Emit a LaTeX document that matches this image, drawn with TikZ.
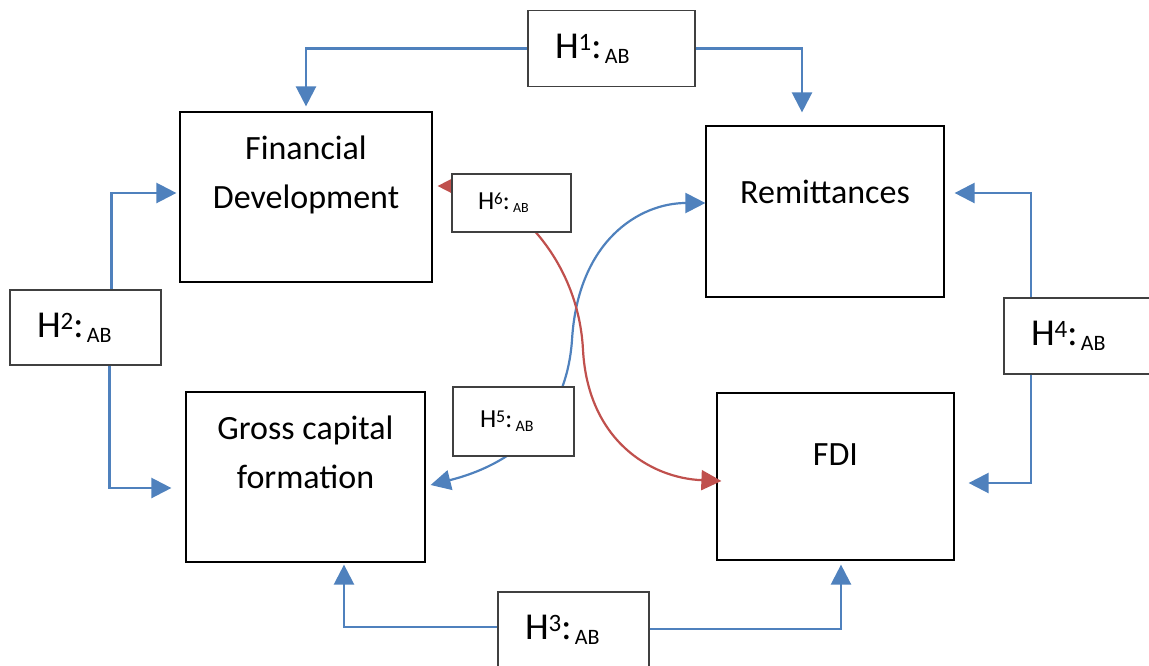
\documentclass[tikz,border=0pt]{standalone}
\usepackage{fontspec}
\setmainfont{Carlito}
\usetikzlibrary{arrows.meta,calc}
\definecolor{lblue}{HTML}{4F81BD}
\definecolor{lred}{HTML}{C0504D}
\definecolor{hgray}{HTML}{404040}
% #1 number, #2 H size, #3 sup size, #4 AB size, #5 sup raise, #6 AB lower
\newcommand\hyplab[6]{\fontsize{#2}{#2}\selectfont H\raisebox{#5}{\fontsize{#3}{#3}\selectfont #1}:\ \raisebox{-#6}{\fontsize{#4}{#4}\selectfont AB}}
\begin{document}
\begin{tikzpicture}[x=1pt,y=-1pt,
  mainbox/.style={draw=black,line width=1.2pt,fill=white,inner sep=0pt},
  maintext/.style={align=center,font=\fontsize{34}{49}\selectfont,inner sep=0pt},
  hypbox/.style={draw=hgray,line width=1.2pt,fill=white,inner ysep=0pt,inner xsep=27pt,align=left},
  conn/.style={draw=lblue,line width=2.4pt,-{Triangle[length=20pt,width=20pt]}},
  bconn/.style={draw=lblue,line width=2.2pt,{Triangle[length=20pt,width=20pt]}-{Triangle[length=20pt,width=20pt]}},
  rconn/.style={draw=lred,line width=2.2pt,{Triangle[length=20pt,width=20pt]}-{Triangle[length=20pt,width=20pt]}}]
\useasboundingbox (0,0) rectangle (1149,665);
% main boxes
\node[mainbox,minimum width=252pt,minimum height=170pt] (fd) at (306,197) {};
\node[mainbox,minimum width=238pt,minimum height=171pt] (rem) at (825,211.5) {};
\node[mainbox,minimum width=239pt,minimum height=170pt] (gcf) at (305.5,477) {};
\node[mainbox,minimum width=237pt,minimum height=167pt] (fdi) at (835.5,476.5) {};
\node[maintext] (fdT) at ($(fd.north)+(0,64)$) {Financial\\Development};
\node[maintext] (remT) at ($(rem.north)+(0,67)$) {Remittances};
\node[maintext] (gcfT) at ($(gcf.north)+(0,61)$) {Gross capital\\formation};
\node[maintext] (fdiT) at ($(fdi.north)+(0,62)$) {FDI};
% curved connectors
\draw[bconn] ($(gcf.east)+(5,8)$) .. controls (510,465) and (566,425) .. (572,340)
   .. controls (578,240) and (640,203) .. ($(rem.west)+(0,-8.5)$);
\draw[rconn] ($(fd.east)+(5,-11)$) .. controls (500,186) and (578,250) .. (583,350)
   .. controls (588,440) and (650,478) .. ($(fdi.west)+(5,4.5)$);
% hypothesis boxes
\node[hypbox,text width=113pt,minimum height=76pt] (h1) at (611.5,48.5) {\hyplab{1}{38}{25}{22}{8pt}{5pt}};
\node[hypbox,text width=97pt,minimum height=75pt] (h2) at (85.5,327.5) {\hyplab{2}{38}{25}{22}{8pt}{5pt}};
\node[hypbox,text width=97pt,minimum height=76pt] (h3) at (573.5,630) {\hyplab{3}{38}{25}{22}{8pt}{5pt}};
\node[hypbox,text width=94pt,minimum height=76pt] (h4) at (1078,336) {\hyplab{4}{38}{25}{22}{8pt}{5pt}};
\node[hypbox,text width=67pt,minimum height=69pt] (h5) at (513.5,421.5) {\hyplab{5}{26}{18}{16}{5pt}{4pt}};
\node[hypbox,inner xsep=26pt,text width=67pt,minimum height=58pt] (h6) at (511.5,203) {\hyplab{6}{26}{17}{14}{5.5pt}{3pt}};
% orthogonal connectors
\draw[conn] (h1.west) -| ($(fd.north)+(0,-5)$);
\draw[conn] (h1.east) -| ($(rem.north)+(-23,-13)$);
\draw[conn] ($(h2.north)+(26,0)$) |- ($(fd.west)+(-3,-4)$);
\draw[conn] ($(h2.south)+(24,0)$) |- ($(gcf.west)+(-14,11)$);
\draw[conn] ($(h3.west)+(0,-3)$) -| ($(gcf.south)+(38.5,2)$);
\draw[conn] ($(h3.east)+(0,-1)$) -| ($(fdi.south)+(5.5,4)$);
\draw[conn] ($(h4.north)+(-47,0)$) |- ($(rem.east)+(10,-18.5)$);
\draw[conn] ($(h4.south)+(-47,0)$) |- ($(fdi.east)+(14,6.5)$);
\end{tikzpicture}
\end{document}
